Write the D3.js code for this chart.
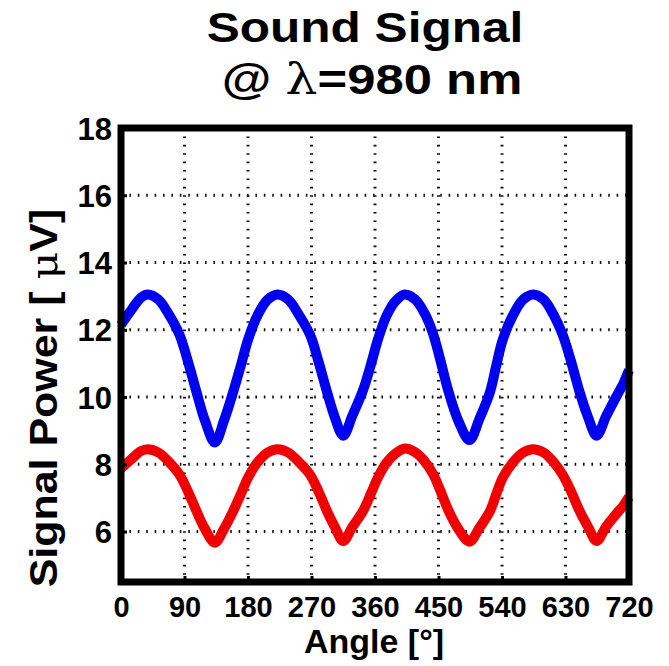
<!DOCTYPE html>
<html>
<head>
<meta charset="utf-8">
<script src="https://cdn.jsdelivr.net/npm/d3@7"></script>
<style>
  body { margin: 0; background: #fff; }
  text { font-family: "Liberation Sans", Arial, sans-serif; font-weight: bold; fill: #000; }
</style>
</head>
<body>
<div class="chart"></div>
<script>
//====================== Data ================================================================

const angles = [0, 15, 28, 38, 53, 68, 83, 95, 107, 119, 133, 146, 159, 170, 180, 194, 208, 222,
  237, 252, 268, 280, 292, 303, 315, 328, 343, 354, 364, 376, 389, 402,
  417, 430, 442, 452, 463, 478, 494, 508, 523, 532, 541, 556, 570, 584,
  599, 613, 626, 638, 650, 662, 674, 688, 703, 712, 720];

const blueSignal = [12.15, 12.6, 12.95, 13.05, 12.9, 12.45, 11.85, 11.05, 10.15, 9.3, 8.65, 9.3, 10.15, 10.95, 11.7, 12.45, 12.9, 13.05,
  12.9, 12.45, 11.85, 11.05, 10.15, 9.4, 8.85, 9.45, 10.2, 10.95, 11.7, 12.4, 12.85, 13.05,
  12.9, 12.5, 11.9, 11.15, 10.25, 9.3, 8.72, 9.35, 10.15, 10.95, 11.7, 12.45, 12.9, 13.05,
  12.9, 12.45, 11.85, 11.05, 10.15, 9.4, 8.85, 9.45, 10.05, 10.4, 10.8];

const redSignal = [7.88, 8.16, 8.39, 8.45, 8.35, 8.07, 7.69, 7.19, 6.61, 6.08, 5.67, 6.08, 6.61, 7.12, 7.6, 8.07, 8.35, 8.45,
  8.35, 8.07, 7.69, 7.19, 6.61, 6.14, 5.72, 6.14, 6.61, 7.12, 7.6, 8.04, 8.32, 8.47,
  8.36, 8.1, 7.72, 7.25, 6.68, 6.08, 5.7, 6.11, 6.61, 7.12, 7.6, 8.07, 8.35, 8.45,
  8.35, 8.07, 7.69, 7.19, 6.61, 6.14, 5.72, 6.16, 6.55, 6.77, 7.03];

const xTicks = [0, 90, 180, 270, 360, 450, 540, 630, 720];
const yTicks = [6, 8, 10, 12, 14, 16, 18];

//====================== Chart ===============================================================

const w = 669;
const h = 666;

const plotLeft = 121;
const plotRight = 629;
const plotTop = 128;
const plotBottom = 582;

const xScale = d3.scaleLinear()
  .domain([0, 720])
  .range([plotLeft, plotRight]);

const yScale = d3.scaleLinear()
  .domain([4.5, 18])
  .range([plotBottom, plotTop]);

const svg = d3.select(".chart").append("svg")
  .attr("width", w)
  .attr("height", h);

// dotted grid

svg.append("g").selectAll("line")
  .data(xTicks.slice(1, -1))
  .join("line")
  .attr("x1", d => xScale(d))
  .attr("x2", d => xScale(d))
  .attr("y1", plotTop)
  .attr("y2", plotBottom)
  .attr("stroke", "#111")
  .attr("stroke-width", 3)
  .attr("stroke-dasharray", "1.6,6.8");

svg.append("g").selectAll("line")
  .data(yTicks.slice(0, -1))
  .join("line")
  .attr("x1", plotLeft)
  .attr("x2", plotRight)
  .attr("y1", d => yScale(d))
  .attr("y2", d => yScale(d))
  .attr("stroke", "#111")
  .attr("stroke-width", 3)
  .attr("stroke-dasharray", "1.6,6.8");

// signal lines

const line = d3.line()
  .x((d, i) => xScale(angles[i]))
  .y(d => yScale(d))
  .curve(d3.curveCatmullRom.alpha(0.5));

svg.append("path")
  .attr("d", line(redSignal))
  .attr("fill", "none")
  .attr("stroke", "#f00000")
  .attr("stroke-width", 10)
  .attr("stroke-linejoin", "round");

svg.append("path")
  .attr("d", line(blueSignal))
  .attr("fill", "none")
  .attr("stroke", "#0000f0")
  .attr("stroke-width", 10)
  .attr("stroke-linejoin", "round");

// axes, ticks pointing inwards

const xAxisGen = d3.axisBottom(xScale)
  .tickValues(xTicks)
  .tickSize(-6)
  .tickPadding(14);

const yAxisGen = d3.axisLeft(yScale)
  .tickValues(yTicks)
  .tickSize(-6)
  .tickPadding(9);

const xAxis = svg.append("g")
  .attr("transform", "translate(0, " + plotBottom + ")")
  .call(xAxisGen);

const yAxis = svg.append("g")
  .attr("transform", "translate(" + plotLeft + ", 0)")
  .call(yAxisGen);

[xAxis, yAxis].forEach(ax => {
  ax.select(".domain").remove();
  ax.selectAll(".tick line").attr("stroke", "#000").attr("stroke-width", 3);
  ax.selectAll("text")
    .attr("font-family", "Liberation Sans, Arial, sans-serif")
    .attr("font-weight", "bold")
    .attr("fill", "#000");
});

xAxis.selectAll("text").attr("font-size", 29).attr("dy", "0.74em");
yAxis.selectAll("text").attr("font-size", 31).attr("dy", "0.36em");

// box

svg.append("rect")
  .attr("x", plotLeft)
  .attr("y", plotTop)
  .attr("width", plotRight - plotLeft)
  .attr("height", plotBottom - plotTop)
  .attr("fill", "none")
  .attr("stroke", "#000")
  .attr("stroke-width", 7);

// title (the original font is wider than Arial, so stretch it a bit)

svg.append("text")
  .attr("transform", "translate(365, 42) scale(1.18, 1)")
  .attr("text-anchor", "middle")
  .attr("font-size", 42)
  .text("Sound Signal");

const line2 = svg.append("text")
  .attr("transform", "translate(372, 94) scale(1.21, 1)")
  .attr("text-anchor", "middle")
  .attr("font-size", 42);
line2.append("tspan").text("@ ");
line2.append("tspan")
  .attr("font-family", "DejaVu Serif, serif")
  .attr("font-weight", "normal")
  .text("λ");
line2.append("tspan").text("=980 nm");

// axis labels

svg.append("text")
  .attr("x", 374)
  .attr("y", 653)
  .attr("text-anchor", "middle")
  .attr("font-size", 34)
  .text("Angle [°]");

const yLabel = svg.append("text")
  .attr("transform", "translate(57, 398) rotate(-90) scale(1.13, 1)")
  .attr("text-anchor", "middle")
  .attr("font-size", 38);

yLabel.append("tspan").text("Signal Power [ ");
yLabel.append("tspan")
  .attr("font-family", "DejaVu Serif, serif")
  .attr("font-weight", "normal")
  .text("μ");
yLabel.append("tspan").text("V]");

</script>
</body>
</html>
